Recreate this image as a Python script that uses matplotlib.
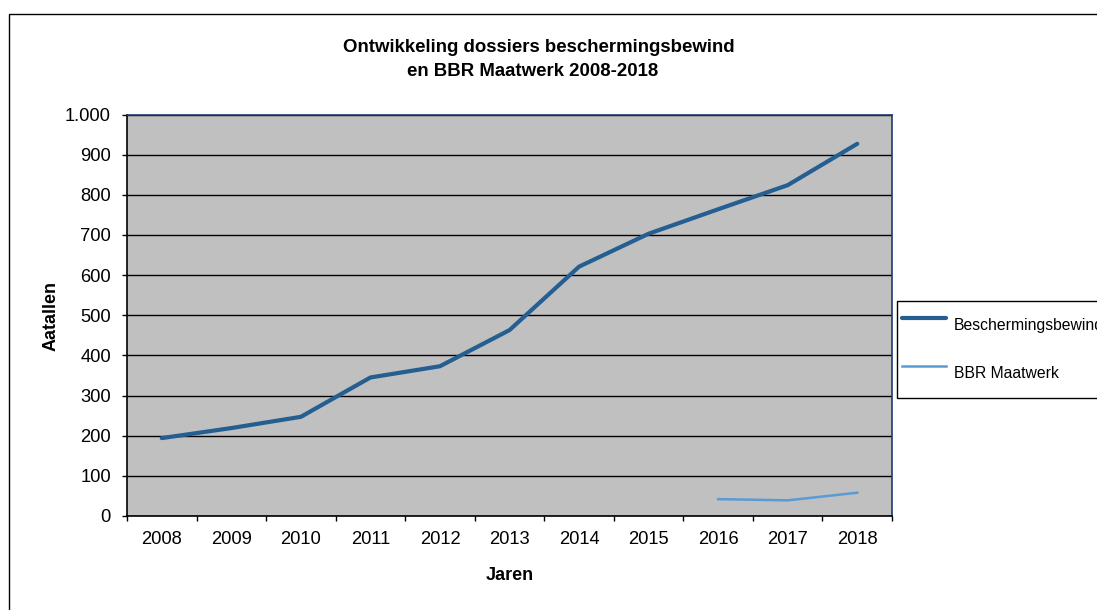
import numpy as np
import matplotlib.pyplot as plt
from matplotlib.patches import Rectangle
from matplotlib.ticker import FixedLocator, NullFormatter, FuncFormatter

plt.rcParams['font.family'] = ['Liberation Sans', 'DejaVu Sans']

# data
jaren = ['2008', '2009', '2010', '2011', '2012', '2013', '2014', '2015', '2016', '2017', '2018']
bewind = [194, 219, 247, 345, 373, 463, 621, 703, 764, 824, 927]
bbr_jaren = ['2016', '2017', '2018']
bbr = [42, 39, 58]

W, H = 1097, 610
fig = plt.figure(figsize=(W / 100, H / 100), dpi=100)
ax = fig.add_axes([127 / W, 1 - 516 / H, (892 - 127) / W, (516 - 114.5) / H])
ax.set_facecolor('#C0C0C0')

x = np.arange(len(jaren))
xb = np.array([jaren.index(j) for j in bbr_jaren])
ax.plot(x, bewind, color='#255E91', lw=3.0, solid_capstyle='round',
        solid_joinstyle='round', label='Beschermingsbewind', zorder=3)
ax.plot(xb, bbr, color='#5B9BD5', lw=1.8, label='BBR Maatwerk', zorder=3)

ax.set_xlim(-0.5, len(jaren) - 0.5)
ax.set_ylim(0, 1000)

# x-as: streepjes tussen de jaren, labels in het midden
ax.xaxis.set_major_locator(FixedLocator(np.arange(-0.5, len(jaren), 1.0)))
ax.xaxis.set_major_formatter(NullFormatter())
ax.xaxis.set_minor_locator(FixedLocator(x))
ax.set_xticklabels(jaren, minor=True)
ax.tick_params(axis='x', which='major', direction='out', length=3.6, width=1, color='black')
ax.tick_params(axis='x', which='minor', length=0, pad=11, labelsize=13.2)

ax.set_yticks(np.arange(0, 1001, 100))
ax.yaxis.set_major_formatter(FuncFormatter(lambda v, p: f'{int(v):,}'.replace(',', '.')))
ax.tick_params(axis='y', direction='out', length=3.6, width=1, pad=8, labelsize=13.2, color='black')

ax.grid(axis='y', color='black', lw=1.0)
ax.set_axisbelow(True)
for s in ['left', 'bottom']:
    ax.spines[s].set_color('black')
    ax.spines[s].set_linewidth(1.2)
for s in ['top', 'right']:
    ax.spines[s].set_color('#1F3A70')
    ax.spines[s].set_linewidth(1.2)

fig.text(539 / W, 1 - 48 / H, 'Ontwikkeling dossiers beschermingsbewind', ha='center', va='center',
         fontsize=13.4, fontweight='bold')
fig.text(533 / W, 1 - 72 / H, 'en BBR Maatwerk 2008-2018', ha='center', va='center',
         fontsize=13.4, fontweight='bold')
fig.text(51 / W, 1 - 316 / H, 'Aatallen', rotation=90, ha='center', va='center',
         fontsize=13, fontweight='bold')
fig.text(510 / W, 1 - 575 / H, 'Jaren', ha='center', va='center',
         fontsize=13, fontweight='bold')

# legenda loopt net als in het origineel over de rechterrand
leg = fig.legend(loc='upper left', bbox_to_anchor=(897 / W, 1 - 300.7 / H),
                 bbox_transform=fig.transFigure, borderaxespad=0, fontsize=11.3,
                 frameon=True, fancybox=False, edgecolor='black', framealpha=1,
                 borderpad=0.35, handleheight=3.4, labelspacing=0.6,
                 handlelength=2.8, handletextpad=0.45)
leg.get_frame().set_linewidth(1.0)

# rand om de hele grafiek
fig.add_artist(Rectangle((9 / W, -0.2), 2, 1 - 14 / H + 0.2, transform=fig.transFigure,
                         fill=False, edgecolor='black', lw=1.0, clip_on=False))

fig.savefig('out.png', dpi=100)
